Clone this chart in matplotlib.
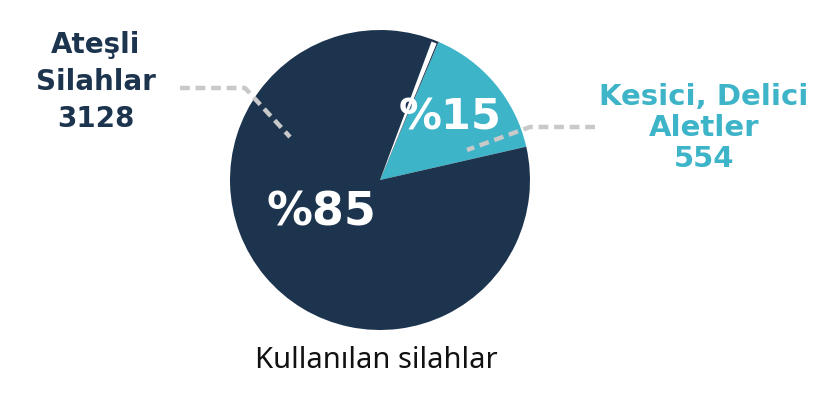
import matplotlib
matplotlib.use("Agg")
import matplotlib.pyplot as plt
from matplotlib.lines import Line2D
import numpy as np

plt.rcParams['font.family'] = ['DejaVu Sans']

# data
categories = ["Kesici, Delici\nAletler", "Ateşli\nSilahlar"]
counts = [554, 3128]
colors = ["#3db4c8", "#1c344e"]
title = "Kullanılan silahlar"

W, H = 820, 403
fig = plt.figure(figsize=(W / 100, H / 100), dpi=100)
fig.patch.set_facecolor("white")


def fx(x):
    return x / W


def fy(y):
    return 1 - y / H


# pie centred at (380,180) px, radius 150 px
cx, cy, r = 380, 180, 150
ax = fig.add_axes([fx(cx - r), fy(cy + r), 2 * r / W, 2 * r / H])
wedges, _ = ax.pie(counts, colors=colors, startangle=67, counterclock=False,
                   wedgeprops=dict(linewidth=0))
ax.set_xlim(-1, 1)
ax.set_ylim(-1, 1)
ax.set_aspect("equal")
ax.axis("off")

# white gap at the start of the light slice
a = np.deg2rad(wedges[0].theta2)
ax.fill([0, 0.985 * np.cos(a + 0.045), 0.985 * np.cos(a + 0.008)],
        [0, 0.985 * np.sin(a + 0.045), 0.985 * np.sin(a + 0.008)],
        color="white", linewidth=0, zorder=3)

total = sum(counts)
pct = [round(c / total * 100) for c in counts]

# percent labels inside slices
ax.text(0.47, 0.42, "%" + str(pct[0]), color="white", fontsize=31,
        fontweight="bold", ha="center", va="center", zorder=4)
ax.text(-0.39, -0.22, "%" + str(pct[1]), color="white", fontsize=33,
        fontweight="bold", ha="center", va="center", zorder=4)

# category labels
fig.text(fx(96), fy(82), categories[1] + "\n" + str(counts[1]), color=colors[1],
         fontsize=20, fontweight="bold", ha="center", va="center",
         linespacing=1.4)
fig.text(fx(704), fy(128), categories[0] + "\n" + str(counts[0]), color=colors[0],
         fontsize=21, fontweight="bold", ha="center", va="center",
         linespacing=1.14)

# dashed leader lines
lc = "#c9c9c9"
fig.add_artist(Line2D([fx(180), fx(245), fx(290)], [fy(88), fy(88), fy(137)],
                      color=lc, linewidth=3.2, linestyle=(0, (2.2, 1.3))))
fig.add_artist(Line2D([fx(595), fx(530), fx(467)], [fy(127), fy(127), fy(150)],
                      color=lc, linewidth=3.2, linestyle=(0, (2.2, 1.3))))

fig.text(fx(376), fy(361), title, color="#111111", fontsize=21,
         family="Noto Sans", ha="center", va="center")

fig.savefig("out.png", dpi=100, facecolor="white")
